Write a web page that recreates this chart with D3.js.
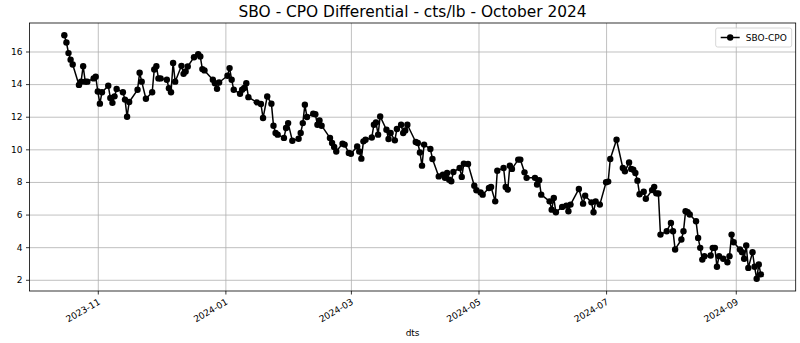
<!DOCTYPE html>
<html>
<head>
<meta charset="utf-8">
<script src="https://cdn.jsdelivr.net/npm/d3@7"></script>
<style>
  body { margin: 0; background: #fff; }
  text { font-family: "DejaVu Sans", sans-serif; }
  .grid line { stroke: #b0b0b0; stroke-width: 0.8; }
  .grid .domain { display: none; }
  .axis text { font-size: 9px; fill: #000; }
  .axis line { stroke: #000; stroke-width: 0.8; }
  .axis .domain { display: none; }
</style>
</head>
<body>
<div class="chart_1"></div>
<script>
// SBO - CPO differential, one point per trading day
var dates = [
  "2023-10-16","2023-10-17","2023-10-18","2023-10-19","2023-10-20","2023-10-23","2023-10-24","2023-10-25","2023-10-26","2023-10-27",
  "2023-10-30","2023-10-31","2023-11-01","2023-11-02","2023-11-03","2023-11-06","2023-11-07","2023-11-08","2023-11-09","2023-11-10",
  "2023-11-13","2023-11-14","2023-11-15","2023-11-16","2023-11-20","2023-11-21","2023-11-22","2023-11-24","2023-11-27","2023-11-28",
  "2023-11-29","2023-11-30","2023-12-01","2023-12-04","2023-12-05","2023-12-06","2023-12-07","2023-12-08","2023-12-11","2023-12-12",
  "2023-12-13","2023-12-14","2023-12-17","2023-12-19","2023-12-20","2023-12-21","2023-12-22","2023-12-26","2023-12-27","2023-12-28",
  "2023-12-29","2024-01-02","2024-01-03","2024-01-04","2024-01-05","2024-01-08","2024-01-09","2024-01-10","2024-01-11","2024-01-12",
  "2024-01-16","2024-01-18","2024-01-19","2024-01-21","2024-01-23","2024-01-24","2024-01-25","2024-01-26","2024-01-29","2024-01-30",
  "2024-01-31","2024-02-02","2024-02-05","2024-02-06","2024-02-07","2024-02-08","2024-02-09","2024-02-12","2024-02-13","2024-02-14",
  "2024-02-15","2024-02-16","2024-02-20","2024-02-21","2024-02-22","2024-02-23","2024-02-26","2024-02-27","2024-02-29","2024-03-01",
  "2024-03-04","2024-03-05","2024-03-06","2024-03-07","2024-03-08","2024-03-11","2024-03-12","2024-03-13","2024-03-14","2024-03-15",
  "2024-03-18","2024-03-19","2024-03-20","2024-03-22","2024-03-23","2024-03-25","2024-03-26","2024-03-27","2024-03-28","2024-04-01",
  "2024-04-02","2024-04-03","2024-04-04","2024-04-05","2024-04-08","2024-04-09","2024-04-12","2024-04-14","2024-04-15","2024-04-16",
  "2024-04-17","2024-04-18","2024-04-19","2024-04-22","2024-04-23","2024-04-24","2024-04-26","2024-04-29","2024-04-30","2024-05-02",
  "2024-05-03","2024-05-06","2024-05-07","2024-05-09","2024-05-10","2024-05-13","2024-05-14","2024-05-15","2024-05-16","2024-05-17",
  "2024-05-20","2024-05-21","2024-05-23","2024-05-24","2024-05-28","2024-05-29","2024-05-30","2024-05-31","2024-06-04","2024-06-05",
  "2024-06-06","2024-06-07","2024-06-10","2024-06-12","2024-06-13","2024-06-14","2024-06-18","2024-06-20","2024-06-21","2024-06-24",
  "2024-06-25","2024-06-26","2024-06-28","2024-07-01","2024-07-02","2024-07-03","2024-07-06","2024-07-09","2024-07-10","2024-07-12",
  "2024-07-13","2024-07-14","2024-07-15","2024-07-16","2024-07-17","2024-07-19","2024-07-20","2024-07-23","2024-07-24","2024-07-25",
  "2024-07-26","2024-07-27","2024-07-30","2024-08-01","2024-08-02","2024-08-03","2024-08-06","2024-08-07","2024-08-08","2024-08-09",
  "2024-08-10","2024-08-13","2024-08-14","2024-08-15","2024-08-16","2024-08-17","2024-08-20","2024-08-21","2024-08-22","2024-08-23",
  "2024-08-24","2024-08-26","2024-08-28","2024-08-29","2024-08-30","2024-08-31","2024-09-03","2024-09-04","2024-09-05","2024-09-06",
  "2024-09-07","2024-09-09","2024-09-10","2024-09-11","2024-09-12","2024-09-13"
];

var sboCpo = [
  17.0, 16.55, 15.9, 15.5, 15.2, 13.95, 14.15, 15.1, 14.15, 14.15,
  14.35, 14.45, 13.55, 12.8, 13.5, 13.9, 13.15, 12.85, 13.25, 13.7,
  13.5, 13.05, 12.0, 12.9, 13.65, 14.7, 14.15, 13.1, 13.5, 14.9,
  15.1, 14.35, 14.35, 14.27, 13.75, 13.5, 15.3, 14.15, 15.12, 14.63,
  14.77, 15.08, 15.65, 15.84, 15.69, 14.92, 14.84, 14.27, 14.05, 13.71,
  14.1, 14.51, 14.98, 14.27, 13.65, 13.41, 13.65, 13.76, 14.06, 13.2,
  12.88, 12.78, 11.92, 13.24, 12.8, 11.45, 11.0, 10.9, 10.7, 11.31,
  11.61, 10.53, 10.65, 11.0, 11.61, 12.73, 11.98, 12.18, 12.15, 11.51,
  11.77, 11.45, 10.7, 10.39, 10.14, 9.87, 10.35, 10.29, 9.78, 9.73,
  10.18, 9.87, 9.43, 10.49, 10.59, 10.73, 11.51, 11.65, 10.9, 12.02,
  11.2, 10.63, 11.0, 10.55, 11.25, 11.51, 11.0, 11.16, 11.51, 10.45,
  10.39, 9.81, 9.0, 10.29, 10.02, 9.41, 8.34, 8.45, 8.25, 8.55,
  8.14, 8.04, 8.61, 8.86, 8.31, 9.12, 9.1, 7.77, 7.49, 7.36,
  7.22, 7.63, 7.69, 6.81, 8.69, 8.86, 7.69, 7.53, 9.0, 8.8,
  9.37, 9.37, 8.59, 8.25, 8.25, 7.84, 8.1, 7.22, 6.81, 6.3,
  7.02, 6.14, 6.47, 6.55, 6.2, 6.61, 7.57, 6.67, 7.16, 6.75,
  6.14, 6.81, 6.61, 7.98, 8.02, 9.41, 10.59, 8.86, 8.65, 9.2,
  8.8, 8.75, 8.55, 8.08, 7.25, 7.4, 6.97, 7.5, 7.7, 7.3,
  7.29, 4.77, 4.98, 5.49, 4.98, 3.86, 4.47, 4.98, 6.2, 6.14,
  6.0, 5.59, 4.57, 3.96, 3.24, 3.45, 3.49, 3.96, 3.96, 2.8,
  3.45, 3.29, 3.08, 3.45, 4.77, 4.3, 3.86, 3.69, 3.29, 4.1,
  2.73, 3.69, 2.8, 2.06, 2.94, 2.33
];

var xTickDates = ["2023-11-01", "2024-01-01", "2024-03-01", "2024-05-01", "2024-07-01", "2024-09-01"];
var yTickValues = [2, 4, 6, 8, 10, 12, 14, 16];
var seriesName = "SBO-CPO";
var chartTitle = "SBO - CPO Differential - cts/lb - October 2024";
var xLabel = "dts";

var parseDate = d3.timeParse("%Y-%m-%d");
var data = dates.map(function(d, i) { return { date: parseDate(d), value: sboCpo[i] }; });

var width = 800, height = 343;
var margin = { top: 23, right: 4.3, bottom: 52, left: 29.5 };
var plotW = width - margin.left - margin.right;
var plotH = height - margin.top - margin.bottom;

var svg = d3.select(".chart_1").append("svg")
            .attr("width", width)
            .attr("height", height);

// matplotlib style 5% padding on both axes
var xExt = d3.extent(data, function(d) { return d.date; });
var xPad = (xExt[1] - xExt[0]) * 0.05;
var scaleX = d3.scaleTime()
               .domain([new Date(+xExt[0] - xPad), new Date(+xExt[1] + xPad)])
               .range([0, plotW]);

var yExt = d3.extent(data, function(d) { return d.value; });
var yPad = (yExt[1] - yExt[0]) * 0.05;
var scaleY = d3.scaleLinear()
               .domain([yExt[0] - yPad, yExt[1] + yPad])
               .range([plotH, 0]);

var chart = svg.append("g")
               .attr("transform", "translate(" + margin.left + "," + margin.top + ")");

var xTicks = xTickDates.map(parseDate);

// grid
chart.append("g")
     .attr("class", "grid")
     .attr("transform", "translate(0," + plotH + ")")
     .call(d3.axisBottom(scaleX).tickValues(xTicks).tickSize(-plotH).tickFormat(""));

chart.append("g")
     .attr("class", "grid")
     .call(d3.axisLeft(scaleY).tickValues(yTickValues).tickSize(-plotW).tickFormat(""));

// axes
var xAxis = chart.append("g")
     .attr("class", "axis")
     .attr("transform", "translate(0," + plotH + ")")
     .call(d3.axisBottom(scaleX).tickValues(xTicks).tickSize(3.5).tickFormat(d3.timeFormat("%Y-%m")));

xAxis.selectAll("text")
     .attr("text-anchor", "end")
     .attr("dy", "0.35em")
     .attr("y", 0)
     .attr("x", 0)
     .attr("transform", "translate(1,10) rotate(-30)");

chart.append("g")
     .attr("class", "axis")
     .call(d3.axisLeft(scaleY).tickValues(yTickValues).tickSize(3.5).tickPadding(3.5));

// series
var line = d3.line()
             .x(function(d) { return scaleX(d.date); })
             .y(function(d) { return scaleY(d.value); });

chart.append("path")
     .datum(data)
     .attr("fill", "none")
     .attr("stroke", "#000")
     .attr("stroke-width", 1.5)
     .attr("stroke-linejoin", "round")
     .attr("d", line);

chart.selectAll("circle.pt")
     .data(data)
     .enter()
     .append("circle")
     .attr("class", "pt")
     .attr("cx", function(d) { return scaleX(d.date); })
     .attr("cy", function(d) { return scaleY(d.value); })
     .attr("r", 3.2)
     .attr("fill", "#000");

// frame
chart.append("rect")
     .attr("width", plotW)
     .attr("height", plotH)
     .attr("fill", "none")
     .attr("stroke", "#000")
     .attr("stroke-width", 0.8);

// legend
var legend = chart.append("g")
                  .attr("transform", "translate(" + (plotW - 80) + ",5)");
legend.append("rect")
      .attr("width", 76)
      .attr("height", 19)
      .attr("rx", 2)
      .attr("fill", "#fff")
      .attr("fill-opacity", 0.8)
      .attr("stroke", "#ccc")
      .attr("stroke-width", 0.8);
legend.append("line")
      .attr("x1", 5).attr("x2", 24)
      .attr("y1", 9.5).attr("y2", 9.5)
      .attr("stroke", "#000")
      .attr("stroke-width", 1.5);
legend.append("circle")
      .attr("cx", 14.5).attr("cy", 9.5)
      .attr("r", 3.2)
      .attr("fill", "#000");
legend.append("text")
      .attr("x", 30)
      .attr("y", 13)
      .style("font-size", "9px")
      .text(seriesName);

// title and axis label
svg.append("text")
   .attr("x", margin.left + plotW / 2)
   .attr("y", 17)
   .attr("text-anchor", "middle")
   .style("font-size", "15.4px")
   .text(chartTitle);

svg.append("text")
   .attr("x", margin.left + plotW / 2)
   .attr("y", 336)
   .attr("text-anchor", "middle")
   .style("font-size", "9px")
   .text(xLabel);
</script>
</body>
</html>
